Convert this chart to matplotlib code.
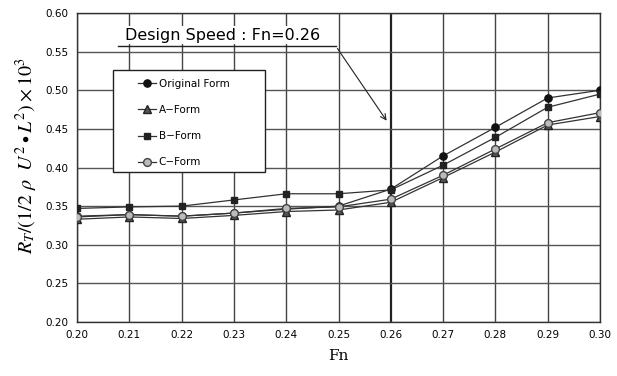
import matplotlib
matplotlib.use("Agg")
import matplotlib.pyplot as plt
from matplotlib.patches import Rectangle

fn = [0.20, 0.21, 0.22, 0.23, 0.24, 0.25, 0.26, 0.27, 0.28, 0.29, 0.30]
original = [0.337, 0.339, 0.337, 0.341, 0.346, 0.350, 0.372, 0.415, 0.452, 0.490, 0.500]
a_form = [0.333, 0.336, 0.334, 0.338, 0.343, 0.345, 0.355, 0.387, 0.420, 0.455, 0.466]
b_form = [0.347, 0.349, 0.350, 0.358, 0.366, 0.366, 0.371, 0.403, 0.439, 0.478, 0.495]
c_form = [0.336, 0.339, 0.337, 0.341, 0.347, 0.349, 0.359, 0.390, 0.424, 0.458, 0.471]
labels = ["Original Form", "A\u2212Form", "B\u2212Form", "C\u2212Form"]
xticks = [0.20, 0.21, 0.22, 0.23, 0.24, 0.25, 0.26, 0.27, 0.28, 0.29, 0.30]
yticks = [0.20, 0.25, 0.30, 0.35, 0.40, 0.45, 0.50, 0.55, 0.60]

plt.rcParams['mathtext.fontset'] = 'stix'
fig = plt.figure(figsize=(6.17, 3.76), dpi=100)
ax = fig.add_axes([77/617, 1-322/376, (600-77)/617, (322-13)/376])

ax.set_xlim(0.20, 0.30)
ax.set_ylim(0.20, 0.60)
ax.set_xticks(xticks)
ax.set_yticks(yticks)
ax.set_xticklabels([f"{v:.2f}" for v in xticks], fontsize=7.5)
ax.set_yticklabels([f"{v:.2f}" for v in yticks], fontsize=7.5)
ax.tick_params(length=0, pad=6)
for v in xticks:
    ax.axvline(v, color='#222222' if v == 0.26 else '#444444',
               lw=1.6 if v == 0.26 else 1.0, zorder=1)
for v in yticks:
    ax.axhline(v, color='#555555', lw=1.0, zorder=1)
for s in ax.spines.values():
    s.set_color('#333333'); s.set_linewidth(1.0)

styles = [
    dict(marker='o', mfc='#111111', mec='#111111', ms=5.2),
    dict(marker='^', mfc='#555555', mec='#222222', ms=5.2),
    dict(marker='s', mfc='#222222', mec='#222222', ms=4.6),
    dict(marker='o', mfc='#bbbbbb', mec='#444444', ms=5.6),
]
series = [original, a_form, b_form, c_form]
order = [1, 2, 0, 3]
handles = {}
for i in order:
    h, = ax.plot(fn, series[i], color='#333333', lw=0.9, zorder=3 + i, **styles[i])
    handles[i] = h

# legend frame
ax.add_patch(Rectangle(((113-77)/523, 1-(172-13)/309), (265-113)/523, (172-70)/309,
                       transform=ax.transAxes, facecolor='white', edgecolor='#222222',
                       lw=1.0, zorder=9))
leg = ax.legend([handles[i] for i in range(4)], labels, loc='upper left',
                bbox_to_anchor=((138-77)/523, 1-(79-13)/309), fontsize=7.5,
                frameon=False, handlelength=1.7, borderpad=0.0,
                labelspacing=1.55, handletextpad=0.3, borderaxespad=0)
leg.set_zorder(10)

ax.text(0.2092, 0.5715, "Design Speed : Fn=0.26", fontsize=11.5, ha='left', va='center',
        zorder=11, bbox=dict(facecolor='white', edgecolor='none', pad=1))
ax.plot([0.2079, 0.2495], [0.557, 0.557], color='#222222', lw=1.0, zorder=11)
ax.annotate("", xy=(0.2595, 0.4576), xytext=(0.2495, 0.557),
            arrowprops=dict(arrowstyle='->', color='#222222', lw=0.8), zorder=11)

ax.set_xlabel("Fn", family='serif', fontsize=11, labelpad=6)
ax.set_ylabel(r"$R_T/(1/2\ \rho\ \ U^2\bullet L^2)\times10^3$", fontsize=14.5)
ax.yaxis.set_label_coords(-0.071, 0.537)

fig.savefig("out.png", dpi=100)
